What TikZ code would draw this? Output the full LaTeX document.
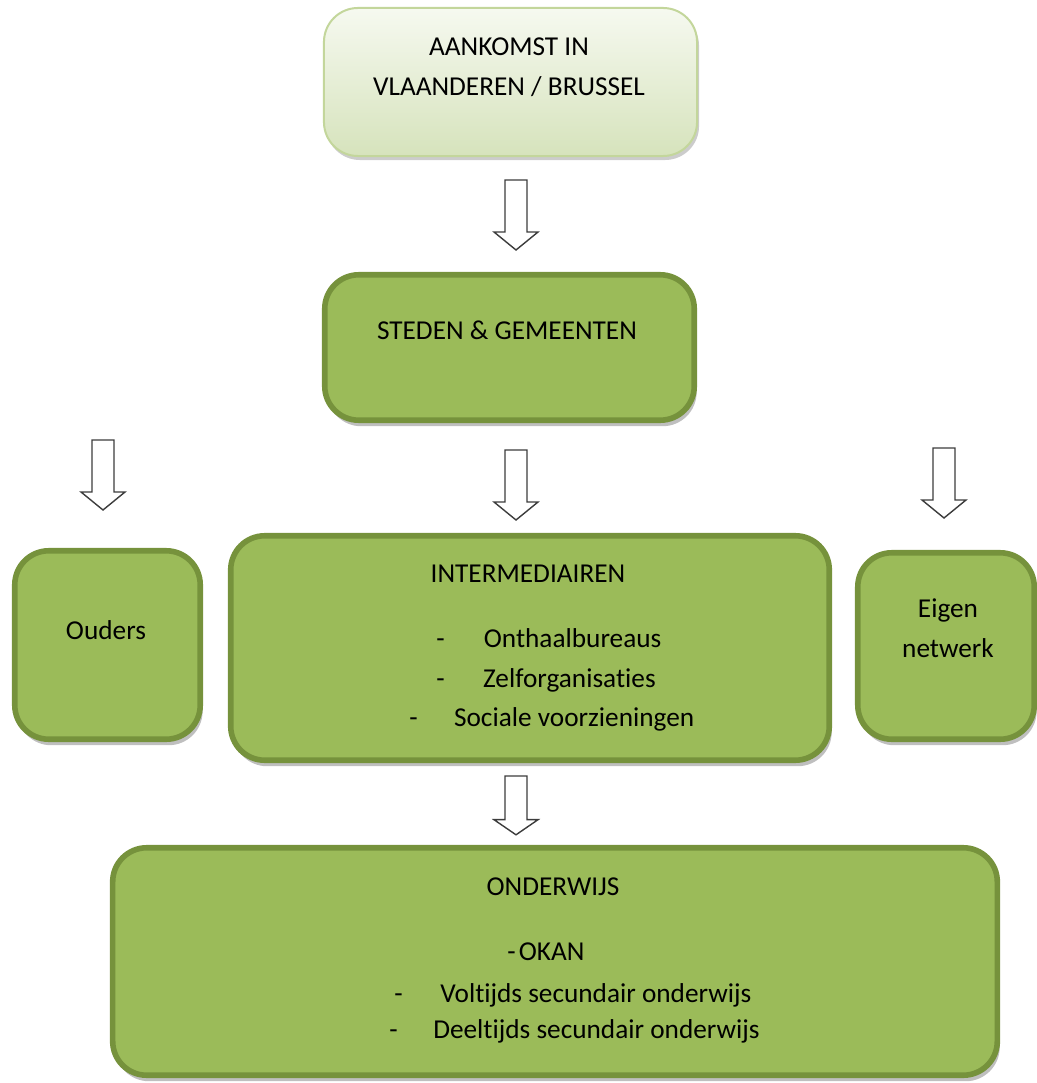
\documentclass[tikz,border=0pt]{standalone}
\usepackage{fontspec}
\setmainfont[Ligatures=NoCommon]{Carlito}
\usetikzlibrary{shadows}

\begin{document}
\begin{tikzpicture}[x=0.025cm,y=-0.025cm,
    greenbox/.style={draw=boxline,fill=boxfill,line width=0.14cm,rounded corners=0.85cm,
      drop shadow={shadow xshift=0.06cm,shadow yshift=-0.15cm,fill=black,opacity=0.25}},
    topbox/.style={draw=topline,line width=0.05cm,rounded corners=0.85cm,
      top color=toptop,bottom color=topbottom,
      drop shadow={shadow xshift=0.05cm,shadow yshift=-0.1cm,fill=black,opacity=0.2}},
    lbl/.style={font=\fontsize{19.4}{28.45}\selectfont,inner sep=0pt,align=center},
    item/.style={lbl,anchor=base west},
    hollow/.style={draw=arrowline,fill=white,line width=0.035cm},
    downarrow/.pic={\draw[hollow] (-11,0) -- (11,0) -- (11,52) -- (22,52) -- (0,70) -- (-22,52) -- (-11,52) -- cycle;}]

    \definecolor{boxfill}{RGB}{155,187,89}
    \definecolor{boxline}{RGB}{118,146,60}
    \definecolor{toptop}{RGB}{246,249,240}
    \definecolor{topbottom}{RGB}{214,227,188}
    \definecolor{topline}{RGB}{195,214,155}
    \definecolor{arrowline}{RGB}{60,60,60}
    \useasboundingbox (0,0) rectangle (1037,1083);

    % boxes
    \node[topbox,minimum width=9.325cm,minimum height=3.7cm] (aankomst) at (510.5,82) {};
    \node[greenbox,minimum width=9.235cm,minimum height=3.635cm] (steden) at (509.5,347.5) {};
    \node[greenbox,minimum width=4.635cm,minimum height=4.71cm] (ouders) at (107.5,645) {};
    \node[greenbox,minimum width=14.96cm,minimum height=5.61cm] (inter) at (530,648) {};
    \node[greenbox,minimum width=4.41cm,minimum height=4.66cm] (eigen) at (946,646) {};
    \node[greenbox,minimum width=22.11cm,minimum height=5.685cm] (onderwijs) at (555,961.5) {};

    % arrows
    \pic at (516,180) {downarrow};
    \pic at (103,440) {downarrow};
    \pic at (516,450) {downarrow};
    \pic at (944,448) {downarrow};
    \pic[yscale=0.84] at (516,776) {downarrow};

    % texts
    \node[lbl] (aankomst-txt) at (509,67) {AANKOMST IN\\VLAANDEREN / BRUSSEL};
    \node[lbl,anchor=base] (steden-txt) at (507,339) {STEDEN \& GEMEENTEN};
    \node[lbl,anchor=base] (ouders-txt) at (106,639) {Ouders};
    \node[lbl] (eigen-txt) at (948,628) {Eigen\\netwerk};
    \node[lbl,anchor=base] (inter-txt) at (528,582) {INTERMEDIAIREN};
    \node[item] (onthaal) at (436,647) {\makebox[1.19cm][l]{-}Onthaalbureaus};
    \node[item] (zelf) at (436,687) {\makebox[1.17cm][l]{-}Zelforganisaties};
    \node[item] (sociale) at (409,726) {\makebox[1.12cm][l]{-}Sociale voorzieningen};
    \node[lbl,anchor=base] (onderwijs-txt) at (553,895) {ONDERWIJS};
    \node[item] (okan) at (507,960) {\makebox[0.29cm][l]{-}OKAN};
    \node[item] (voltijds) at (394,1002) {\makebox[1.15cm][l]{-}Voltijds secundair onderwijs};
    \node[item] (deeltijds) at (389,1038) {\makebox[1.1cm][l]{-}Deeltijds secundair onderwijs};
\end{tikzpicture}
\end{document}
